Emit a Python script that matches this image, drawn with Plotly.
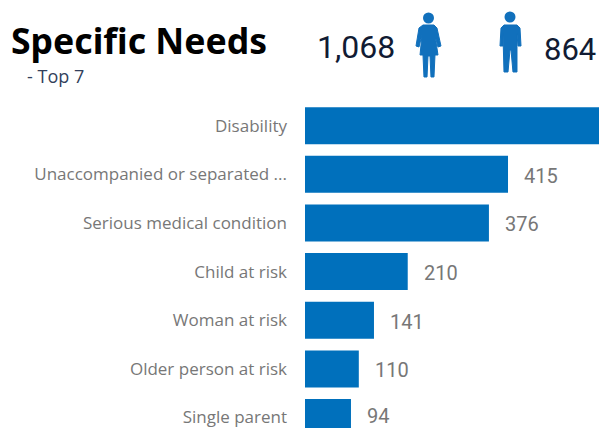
import plotly.graph_objects as go

categories = ["Disability", "Unaccompanied or separated ...", "Serious medical condition",
              "Child at risk", "Woman at risk", "Older person at risk", "Single parent"]
values = [601, 415, 376, 210, 141, 110, 94]
visible_labels = [None, "415", "376", "210", "141", "110", "94"]
female_total = "1,068"
male_total = "864"

W, H = 599, 428
BLUE = "#0070BC"
ICON = "#1170BC"
GRAY = "#777777"
DARK = "#111B33"


def px(x, y):
    return f"{x / W:.4f} {1 - y / H:.4f}"


def path(points):
    return "M" + " L".join(px(x, y) for x, y in points) + " Z"


def circle(cx, cy, r):
    return dict(type="circle", xref="paper", yref="paper",
                x0=(cx - r) / W, x1=(cx + r) / W, y0=1 - (cy + r) / H, y1=1 - (cy - r) / H,
                fillcolor=ICON, line=dict(width=0))


def poly(points):
    return dict(type="path", xref="paper", yref="paper", path=path(points),
                fillcolor=ICON, line=dict(color=ICON, width=1))


woman = [(423, 25), (434, 25), (437, 28), (441, 46), (438, 47), (435, 35), (438, 55),
         (435, 55), (434, 77), (431, 77), (430, 56), (428, 56), (427, 77), (424, 77),
         (423, 55), (420, 55), (422, 35), (419, 47), (416, 46), (419, 28)]
man = [(504, 25), (517, 25), (520, 28), (521, 46), (518, 46), (517, 34), (517, 72),
       (513, 72), (511, 50), (510, 50), (508, 72), (504, 72), (503, 34), (503, 46),
       (500, 46), (501, 28)]

fig = go.Figure(go.Bar(
    y=categories, x=values, orientation="h",
    marker=dict(color=BLUE, line=dict(width=0)),
    hoverinfo="skip",
))

annotations = [
    dict(x=v, y=c, text=t, xref="x", yref="y", xanchor="left", yanchor="middle",
         xshift=14, yshift=2 if c == categories[-1] else -1.5, showarrow=False,
         font=dict(family="Roboto", size=20, color=GRAY))
    for c, v, t in zip(categories, values, visible_labels) if t
]
header = [
    ("Specific Needs", 9, 40, "Noto Sans", 35.6, "#000000", True),
    ("- Top 7", 25, 76, "Open Sans", 18, "#333F5C", False),
    (female_total, 315, 47, "Roboto", 32, DARK, False),
    (male_total, 542, 49, "Roboto", 31, DARK, False),
]
for text, x, y, fam, size, col, bold in header:
    annotations.append(dict(
        x=x / W, y=1 - y / H, xref="paper", yref="paper", xanchor="left", yanchor="middle",
        text=f"<b>{text}</b>" if bold else text, showarrow=False,
        font=dict(family=fam, size=size, color=col),
    ))

fig.update_layout(
    width=W, height=H, margin=dict(l=0, r=0, t=0, b=0),
    autosize=False, paper_bgcolor="white", plot_bgcolor="white",
    bargap=0.24, showlegend=False,
    xaxis=dict(domain=[305 / W, 1], range=[0, 601], visible=False, fixedrange=True),
    yaxis=dict(domain=[0, 1 - 101 / H], range=[6.215, -0.507], type="category",
               categoryorder="array", categoryarray=categories,
               showline=False, showgrid=False, ticks="", ticklabelstandoff=17,
               tickfont=dict(family="Open Sans", size=17, color=GRAY), fixedrange=True),
    annotations=annotations,
    shapes=[circle(428.5, 18, 5.5), poly(woman), circle(510, 17, 5.5), poly(man)],
)

fig.write_html("out.html", config=dict(displayModeBar=False),
               post_script="document.body.style.margin='0';document.body.style.overflow='hidden';")
